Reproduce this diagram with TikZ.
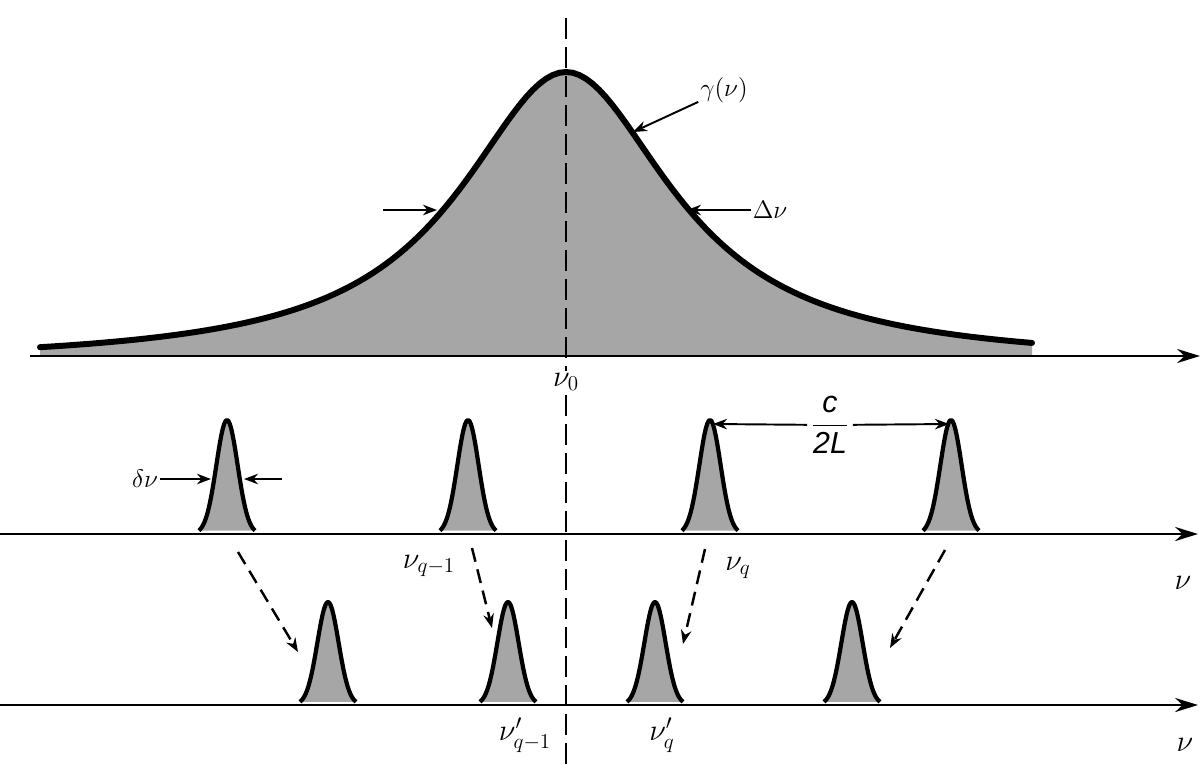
\documentclass[tikz,border=0pt]{standalone}
\usepackage{fontspec}
\usepackage{amsmath}
\setsansfont{Liberation Sans}
\usetikzlibrary{arrows.meta}

\begin{document}
\begin{tikzpicture}[x=0.2mm, y=-0.2mm, >={Stealth[length=8pt,width=6pt]},
  nuaxis/.style={line width=1.5pt, -{Stealth[length=13pt,width=8pt]}},
  pointer/.style={line width=1.1pt, ->},
  pullarrow/.style={line width=1.4pt, dash pattern=on 8pt off 4.5pt, ->},
  centreline/.style={line width=1.7pt, dash pattern=on 12pt off 4.5pt},
  modepeak/.style={draw, line width=2.4pt, fill=black!35, line join=round},
  lbl/.style={font=\LARGE, inner sep=1pt}]
\fill[white] (0,0) rectangle (1202,764);
\useasboundingbox (0,0) rectangle (1202,764);

% gain line
\fill[black!35] (40,356) -- plot[domain=40:1032,samples=150] (\x,{364-292/(1+((\x-566)/130)^2)}) -- (1032,356) -- cycle;
\coordinate (top) at (566,18);
\coordinate (bot) at (566,764);
\draw[centreline] (top) -- (bot);
\draw[line width=3.4pt, line cap=round] plot[domain=40:1032,samples=150] (\x,{364-292/(1+((\x-566)/130)^2)});

% frequency axes
\draw[nuaxis] (30,356) -- (1200,356);
\draw[nuaxis] (0,534) -- (1198,534);
\draw[nuaxis] (0,705) -- (1198,705);

% cavity modes
\foreach \p in {227,468,710,951}
  \draw[modepeak] plot[domain=-28:28,samples=41] ({\p+\x},{534-114*exp(-(\x/15)^2)});
\foreach \p in {328,508,655,852}
  \draw[modepeak] plot[domain=-28:28,samples=41] ({\p+\x},{705-103*exp(-(\x/15)^2)});

% labels
\node[lbl, fill=white] (nu0) at (566,382) {$\nu_0$};
\node[lbl, font=\Large] (gam) at (724,90) {$\gamma(\nu)$};
\node[lbl, font=\Large] (dnu) at (770,210) {$\Delta\nu$};
\node[lbl, font=\Large] (snu) at (145,479) {$\delta\nu$};
\node[lbl] (nuqm) at (429,566) {$\nu_{q-1}$};
\node[lbl] (nuq) at (738,568) {$\nu_q$};
\node[lbl] (nupqm) at (525,735) {$\nu'_{q-1}$};
\node[lbl] (nupq) at (662,735) {$\nu'_q$};
\node[lbl] (nua) at (1183,583) {$\nu$};
\node[lbl] (nub) at (1185,745) {$\nu$};
\node[fill=white, inner sep=2pt, font=\LARGE] (cl) at (830,425) {$\dfrac{\textsf{\itshape c}}{\textsf{\itshape 2L}}$};

% width and spacing markers
\coordinate (gtip) at (633,132);
\draw[pointer] (gam) -- (gtip);
\coordinate (dltail) at (383,210);
\coordinate (dltip) at (437,210);
\draw[pointer] (dltail) -- (dltip);
\coordinate (drtip) at (687,210);
\draw[pointer] (dnu) -- (drtip);
\coordinate (sltip) at (211,479);
\draw[pointer] (snu) -- (sltip);
\coordinate (srtail) at (282,479);
\coordinate (srtip) at (244,479);
\draw[pointer] (srtail) -- (srtip);
\coordinate (m3) at (713,424);
\coordinate (m4) at (949,424);
\draw[pointer] (cl) -- (m3);
\draw[pointer] (cl) -- (m4);

% mode pulling
\coordinate (a1) at (238,552); \coordinate (b1) at (298,652);
\coordinate (a2) at (472,548); \coordinate (b2) at (492,628);
\coordinate (a3) at (705,549); \coordinate (b3) at (683,644);
\coordinate (a4) at (945,550); \coordinate (b4) at (890,648);
\foreach \i in {1,...,4}
  \draw[pullarrow] (a\i) -- (b\i);
\end{tikzpicture}
\end{document}
